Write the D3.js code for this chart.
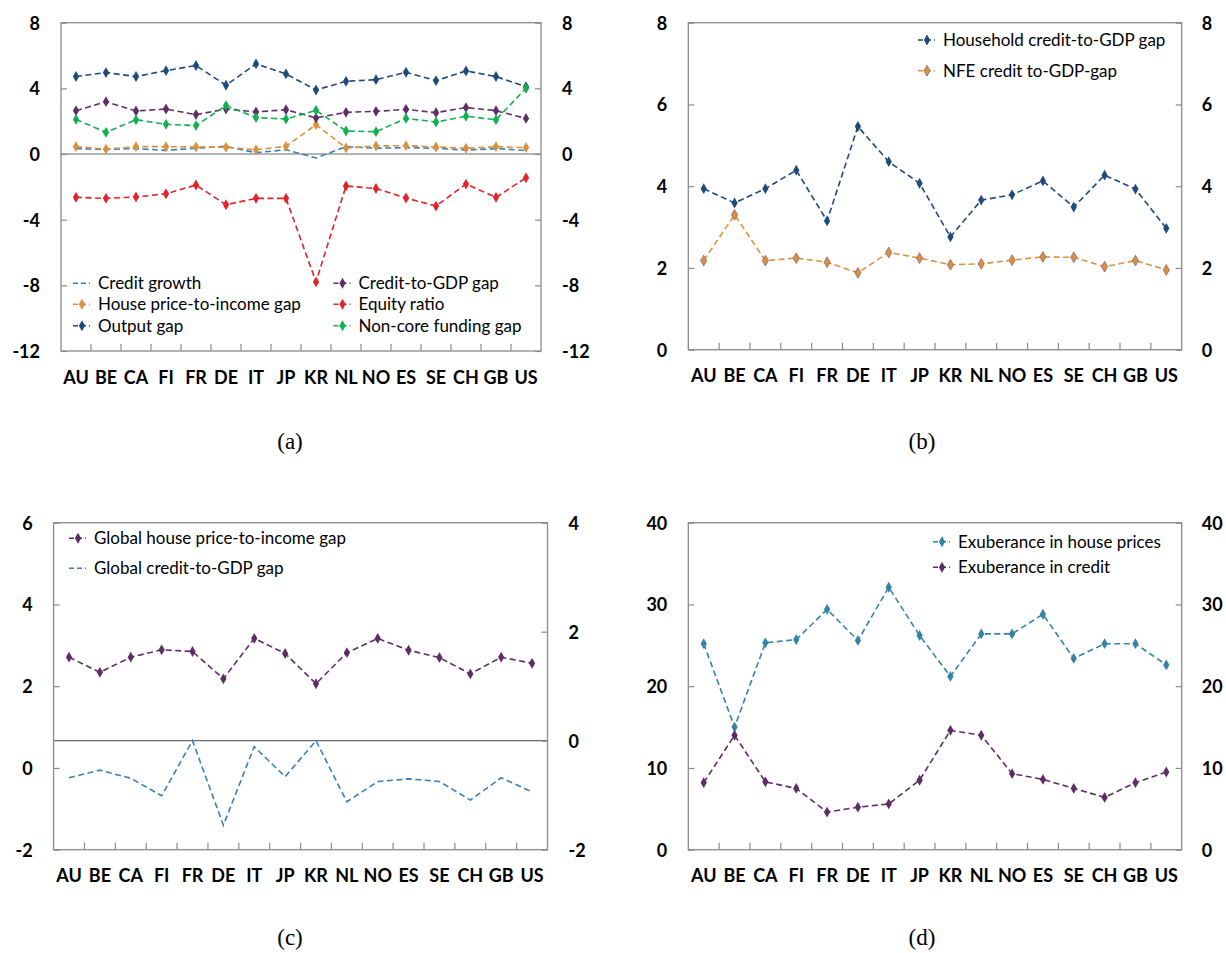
<!DOCTYPE html>
<html>
<head>
<meta charset="utf-8">
<script src="https://cdn.jsdelivr.net/npm/d3@7"></script>
<style>
  body { margin: 0; background: #fff; }
  svg text { font-family: Lato, "Open Sans", sans-serif; }
  .tick text { font-weight: bold; font-size: 18px; fill: #000; }
  .cat text { font-weight: bold; font-size: 18px; fill: #000; }
  .legend text { font-size: 17px; fill: #000; }
  .caption { font-family: "Liberation Serif", "DejaVu Serif", serif !important; font-size: 23px; }
</style>
</head>
<body>
<svg id="chart" width="1226" height="953"></svg>
<script>
var countries = ["AU","BE","CA","FI","FR","DE","IT","JP","KR","NL","NO","ES","SE","CH","GB","US"];

// (a)
var creditGrowth   = [0.33,0.28,0.33,0.22,0.35,0.47,0.08,0.26,-0.24,0.45,0.35,0.39,0.35,0.24,0.33,0.22];
var housePriceGap  = [0.45,0.30,0.45,0.45,0.43,0.41,0.26,0.47,1.79,0.37,0.49,0.51,0.43,0.35,0.45,0.39];
var outputGap      = [4.72,4.96,4.72,5.08,5.39,4.19,5.49,4.88,3.90,4.43,4.53,4.98,4.47,5.06,4.72,4.10];
var creditGdpGap   = [2.64,3.19,2.62,2.74,2.40,2.74,2.56,2.70,2.20,2.54,2.60,2.72,2.52,2.83,2.64,2.17];
var equityRatio    = [-2.64,-2.70,-2.62,-2.42,-1.89,-3.09,-2.70,-2.70,-7.79,-1.95,-2.10,-2.68,-3.17,-1.83,-2.64,-1.45];
var nonCoreGap     = [2.11,1.32,2.09,1.81,1.73,2.95,2.22,2.13,2.66,1.40,1.36,2.17,1.95,2.30,2.09,4.00];

// (b)
var householdGap   = [3.94,3.59,3.94,4.39,3.15,5.46,4.60,4.07,2.76,3.66,3.79,4.13,3.49,4.27,3.93,2.97];
var nfeGap         = [2.18,3.30,2.18,2.24,2.14,1.88,2.38,2.24,2.08,2.10,2.19,2.27,2.26,2.03,2.18,1.95];

// (c)  house price gap on left axis, credit gap on right axis
var globalHouseGap  = [2.71,2.34,2.71,2.89,2.85,2.18,3.17,2.80,2.06,2.82,3.17,2.88,2.70,2.30,2.71,2.56];
var globalCreditGap = [-0.68,-0.54,-0.69,-1.01,0.00,-1.55,-0.11,-0.66,0.00,-1.12,-0.75,-0.70,-0.75,-1.09,-0.68,-0.94];

// (d)
var exuberHouse  = [25.2,15.0,25.3,25.7,29.4,25.6,32.1,26.2,21.2,26.4,26.4,28.8,23.4,25.2,25.2,22.6];
var exuberCredit = [8.2,14.0,8.3,7.5,4.6,5.2,5.6,8.5,14.6,14.0,9.3,8.6,7.5,6.4,8.2,9.5];

var ticksA = [-12,-8,-4,0,4,8];
var ticksB = [0,2,4,6,8];
var ticksCLeft = [-2,0,2,4,6];
var ticksCRight = [-2,0,2,4];
var ticksD = [0,10,20,30,40];

var svg = d3.select("#chart");

var cDarkBlue = "#1f4a7c", cPurple = "#5e2d66", cGreen = "#12b04f", cOrange = "#d8923e",
    cSteel = "#3a7fb5", cRed = "#e3222c", cTeal = "#3283a8";

// plain hyphen for negatives, like the original
var fmt = function(d) { return String(d); };

function drawPanel(p) {
  var g = svg.append("g");
  var x = d3.scaleBand().domain(countries).range([p.x0, p.x1]);
  var yl = d3.scaleLinear().domain(p.left).range([p.y1, p.y0]);
  var yr = d3.scaleLinear().domain(p.right).range([p.y1, p.y0]);

  // zero line
  if (p.zero) {
    var yz = p.zero == "right" ? yr(0) : yl(0);
    g.append("line").attr("x1", p.x0).attr("x2", p.x1).attr("y1", yz).attr("y2", yz)
      .attr("stroke", "#6b6b6b").attr("stroke-width", 1.2);
  }

  // axes
  var la = g.append("g").attr("transform", "translate(" + p.x0 + ",0)")
    .call(d3.axisLeft(yl).tickValues(p.leftTicks).tickSize(-6).tickPadding(21).tickFormat(fmt));
  var ra = g.append("g").attr("transform", "translate(" + p.x1 + ",0)")
    .call(d3.axisRight(yr).tickValues(p.rightTicks).tickSize(-6).tickPadding(p.rpad).tickFormat(fmt));
  [la, ra].forEach(function(a) {
    a.select(".domain").remove();
    a.selectAll(".tick line").attr("stroke", "#8a8a8a").attr("stroke-width", 1.2);
    a.selectAll(".tick text").attr("dy", "0.36em");
  });

  // category ticks and labels
  var ca = g.append("g").attr("class", "cat").attr("transform", "translate(0," + p.y1 + ")")
    .call(d3.axisBottom(x).tickSize(0).tickPadding(p.catPad));
  ca.select(".domain").remove();
  ca.selectAll("text").attr("dy", "0.71em").style("font-size", "18px").style("font-weight", "bold");
  g.selectAll(".ctick").data(countries.slice(1)).enter().append("line")
    .attr("x1", function(d) { return x(d); }).attr("x2", function(d) { return x(d); })
    .attr("y1", p.y1).attr("y2", p.y1 - 7)
    .attr("stroke", "#8a8a8a").attr("stroke-width", 1.2);

  // frame
  g.append("rect").attr("x", p.x0).attr("y", p.y0).attr("width", p.x1 - p.x0).attr("height", p.y1 - p.y0)
    .attr("fill", "none").attr("stroke", "#8a8a8a").attr("stroke-width", 1.3);

  // series
  p.series.forEach(function(s) {
    var y = s.axis == "right" ? yr : yl;
    var line = d3.line().x(function(d, i) { return x(countries[i]) + x.bandwidth() / 2; })
      .y(function(d) { return y(d); });
    g.append("path").datum(s.values).attr("d", line).attr("fill", "none")
      .attr("stroke", s.color).attr("stroke-width", 1.6).attr("stroke-dasharray", "6,3.5");
    if (s.marker) {
      g.selectAll(null).data(s.values).enter().append("path")
        .attr("d", d3.symbol().type(d3.symbolDiamond).size(34))
        .attr("transform", function(d, i) {
          return "translate(" + (x(countries[i]) + x.bandwidth() / 2) + "," + y(d) + ")";
        })
        .attr("fill", s.markerFill || s.color).attr("stroke", s.markerStroke || "none").attr("stroke-width", 0.6);
    }
  });

  // legend
  var lg = g.append("g").attr("class", "legend");
  p.legend.forEach(function(l) {
    var s = p.series[l.i];
    lg.append("line").attr("x1", l.x).attr("x2", l.x + 17).attr("y1", l.y).attr("y2", l.y)
      .attr("stroke", s.color).attr("stroke-width", 1.6).attr("stroke-dasharray", "5,3");
    if (s.marker) {
      lg.append("path").attr("d", d3.symbol().type(d3.symbolDiamond).size(34))
        .attr("transform", "translate(" + (l.x + 9) + "," + l.y + ")")
        .attr("fill", s.markerFill || s.color).attr("stroke", s.markerStroke || "none").attr("stroke-width", 0.6);
    }
    lg.append("text").attr("x", l.x + 25).attr("y", l.y).attr("dy", "0.35em").text(s.name);
  });

  svg.append("text").attr("class", "caption").attr("x", p.capX).attr("y", p.capY)
    .attr("text-anchor", "middle").attr("dy", "0.35em").text(p.caption);
}

drawPanel({
  x0: 61, x1: 541, y0: 22.7, y1: 351, left: [-12, 8], right: [-12, 8],
  leftTicks: ticksA, rightTicks: ticksA, rpad: 21, catPad: 20, zero: "left",
  caption: "(a)", capX: 290, capY: 441,
  series: [
    { name: "Credit growth", values: creditGrowth, color: cSteel, marker: false },
    { name: "House price-to-income gap", values: housePriceGap, color: cOrange, marker: true },
    { name: "Output gap", values: outputGap, color: cDarkBlue, marker: true },
    { name: "Credit-to-GDP gap", values: creditGdpGap, color: cPurple, marker: true },
    { name: "Equity ratio", values: equityRatio, color: cRed, marker: true },
    { name: "Non-core funding gap", values: nonCoreGap, color: cGreen, marker: true }
  ],
  legend: [
    { i: 0, x: 73, y: 283.3 }, { i: 1, x: 73, y: 304.3 }, { i: 2, x: 73, y: 325.7 },
    { i: 3, x: 333.5, y: 283.3 }, { i: 4, x: 333.5, y: 304.3 }, { i: 5, x: 333.5, y: 325.7 }
  ]
});

drawPanel({
  x0: 688.3, x1: 1181.7, y0: 22.7, y1: 349.7, left: [0, 8], right: [0, 8],
  leftTicks: ticksB, rightTicks: ticksB, rpad: 20, catPad: 20, zero: null,
  caption: "(b)", capX: 922, capY: 441,
  series: [
    { name: "Household credit-to-GDP gap", values: householdGap, color: cDarkBlue, marker: true },
    { name: "NFE credit to-GDP-gap", values: nfeGap, color: cOrange, marker: true, markerStroke: "#7a4a6e" }
  ],
  legend: [ { i: 0, x: 918, y: 40 }, { i: 1, x: 918, y: 70.7 } ]
});

drawPanel({
  x0: 53.6, x1: 547.5, y0: 522.7, y1: 849.7, left: [-2, 6], right: [-2, 4],
  leftTicks: ticksCLeft, rightTicks: ticksCRight, rpad: 21, catPad: 20, zero: "right",
  caption: "(c)", capX: 290, capY: 937,
  series: [
    { name: "Global house price-to-income gap", values: globalHouseGap, color: cPurple, marker: true },
    { name: "Global credit-to-GDP gap", values: globalCreditGap, color: cSteel, marker: false, axis: "right" }
  ],
  legend: [ { i: 0, x: 69, y: 538.3 }, { i: 1, x: 69, y: 568.3 } ]
});

drawPanel({
  x0: 688.3, x1: 1181.7, y0: 522.7, y1: 849.7, left: [0, 40], right: [0, 40],
  leftTicks: ticksD, rightTicks: ticksD, rpad: 20, catPad: 20, zero: null,
  caption: "(d)", capX: 922, capY: 937,
  series: [
    { name: "Exuberance in house prices", values: exuberHouse, color: cTeal, marker: true },
    { name: "Exuberance in credit", values: exuberCredit, color: cPurple, marker: true }
  ],
  legend: [ { i: 0, x: 933, y: 541.7 }, { i: 1, x: 933, y: 567.3 } ]
});
</script>
</body>
</html>
